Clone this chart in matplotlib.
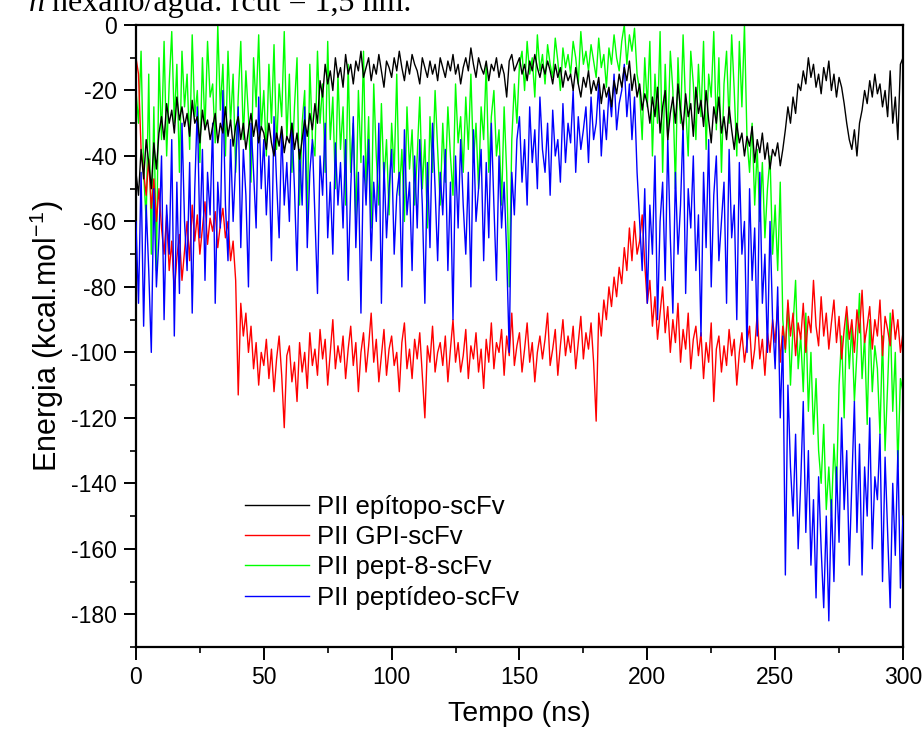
import numpy as np
import matplotlib
matplotlib.use("Agg")
import matplotlib.pyplot as plt
from matplotlib.ticker import MultipleLocator

plt.rcParams['font.family'] = ['Liberation Sans', 'DejaVu Sans']
plt.rcParams['axes.unicode_minus'] = False
plt.rcParams['mathtext.fontset'] = 'custom'
plt.rcParams['mathtext.rm'] = 'Liberation Sans'
plt.rcParams['mathtext.it'] = 'Liberation Sans:italic'

# tempo (ns), one sample per ns
tempo = np.arange(0, 301)

epitopo = [
    -45, -52, -38, -47, -35, -42, -50, -36, -44, -33,
    -28, -35, -24, -30, -26, -33, -22, -29, -25, -31,
    -27, -34, -23, -30, -28, -36, -26, -32, -29, -35,
    -31, -27, -36, -30, -33, -25, -34, -29, -37, -31,
    -28, -35, -30, -38, -32, -27, -34, -29, -36, -31,
    -33, -38, -30, -36, -40, -33, -37, -31, -39, -34,
    -36, -30, -38, -33, -41, -35, -29, -34, -27, -32,
    -24, -30, -17, -22, -12, -18, -14, -20, -10, -16,
    -13, -19, -9, -15, -12, -18, -11, -14, -8, -16,
    -13, -10, -17, -12, -15, -9, -14, -19, -11, -13,
    -16, -10, -14, -8, -13, -17, -11, -15, -9, -12,
    -14, -18, -10, -13, -16, -11, -15, -12, -17, -10,
    -13, -16, -11, -14, -9, -15, -12, -18, -13, -10,
    -14, -7, -12, -16, -10, -13, -15, -11, -17, -12,
    -14, -10, -16, -12, -15, -22, -11, -9, -14, -12,
    -10, -15, -12, -17, -11, -14, -9, -13, -16, -12,
    -15, -11, -14, -18, -12, -16, -13, -19, -14, -17,
    -15, -20, -13, -18, -22, -16, -19, -14, -21, -17,
    -20, -16, -24, -18, -22, -19, -25, -17, -21, -15,
    -19, -13, -17, -11, -20, -15, -22, -18, -26, -21,
    -24, -30, -22, -28, -19, -33, -25, -20, -35, -27,
    -22, -30, -18, -26, -32, -21, -28, -24, -34, -19,
    -27, -23, -31, -20, -29, -36, -25, -30, -22, -33,
    -28, -35, -25, -32, -38, -30, -36, -33, -40, -34,
    -37, -31, -42, -35, -39, -33, -41, -36, -44, -38,
    -40, -36, -43, -38, -32, -25, -30, -22, -27, -18,
    -20, -14, -18, -10, -16, -12, -19, -15, -21, -13,
    -17, -11, -20, -15, -22, -16, -19, -24, -30, -35,
    -38, -32, -40, -30, -26, -20, -24, -17, -22, -15,
    -21, -18, -25, -20, -28, -14, -30, -22, -35, -12,
    -10,
]

gpi = [
    -10, -15, -38, -45, -52, -41, -56, -47, -60, -50,
    -62, -70, -58, -75, -66, -82, -71, -64, -78, -69,
    -60, -72, -55, -66, -58, -70, -62, -54, -67, -59,
    -63, -57, -68, -61, -56, -65, -60, -72, -66, -78,
    -113, -85, -95, -88, -100, -92, -105, -97, -110, -100,
    -104, -96, -108, -99, -112, -102, -95, -107, -123, -101,
    -98, -109, -103, -115, -97, -106, -100, -111, -94, -104,
    -99, -107, -93, -102, -96, -110, -100, -90, -105, -98,
    -103, -95, -108, -99, -92, -104, -97, -112, -100, -94,
    -106, -98, -88, -103, -96, -109, -101, -93, -107, -99,
    -95, -104, -100, -112, -97, -91, -105, -99, -108, -96,
    -102, -94, -107, -120, -98, -103, -92, -106, -100, -97,
    -104, -95, -109, -99, -90, -103, -97, -106, -101, -93,
    -108, -98, -102, -94, -106, -99, -111, -96, -103, -91,
    -105, -97, -100, -93, -107, -95, -101, -88, -104, -98,
    -94, -106, -99, -91, -103, -97, -109, -100, -95, -102,
    -96, -88, -104, -99, -93, -107, -98, -90, -101, -95,
    -100, -92, -105, -97, -89, -102, -94, -99, -91, -103,
    -121, -88, -95, -84, -90, -80, -86, -77, -83, -74,
    -79, -68, -75, -62, -72, -60, -70, -66, -58, -73,
    -85, -78, -92, -83, -96, -88, -80, -94, -86, -100,
    -90, -97, -85, -103, -93, -99, -88, -105, -96, -92,
    -101, -94, -108, -97, -103, -91, -115, -99, -95, -106,
    -98, -104, -93, -101, -96, -110, -100, -94, -103, -97,
    -92, -105, -99, -88, -102, -96, -107, -94, -100, -90,
    -97, -86, -103, -92, -99, -84, -95, -88, -101, -91,
    -96, -85, -100, -89, -94, -78, -92, -98, -83, -95,
    -88, -99, -91, -84, -97, -89, -102, -93, -86, -96,
    -90, -100, -87, -94, -81, -97, -92, -86, -99, -90,
    -95, -84, -101, -89, -93, -98, -87, -96, -90, -100,
    -94,
]

pept8 = [
    -20, -30, -8, -45, -60, -15, -70, -25, -75, -10,
    -35, -5, -40, -18, -2, -30, -12, -45, -8, -25,
    -15, -38, -3, -28, -20, -42, -10, -32, -5, -22,
    -18, -36, 0, -26, -12, -40, -8, -30, -15, -45,
    -22, -5, -35, -14, -28, -48, -10, -25, -3, -32,
    -20, -40, -12, -30, -6, -38, -18, -28, -2, -35,
    -15, -45, -25, -10, -55, -30, -20, -60, -12, -35,
    -40, -8, -30, -18, -45, -5, -35, -22, -50, -15,
    -38, -25, -55, -12, -45, -30, -60, -20, -42, -8,
    -50, -28, -62, -18, -40, -55, -24, -48, -35, -58,
    -30, -45, -15, -52, -38, -60, -25, -44, -32, -55,
    -40, -22, -50, -35, -62, -28, -45, -20, -38, -55,
    -30, -48, -25, -40, -52, -18, -36, -28, -45, -22,
    -38, -15, -42, -30, -50, -25, -35, -12, -45, -28,
    -20, -40, -32, -55, -25, -45, -80, -35, -18, -30,
    -12, -8, -20, -5, -15, -10, -22, -3, -14, -9,
    -18, -6, -12, -16, -4, -11, -20, -7, -13, -9,
    -15, -5, -10, -18, -2, -12, -8, -14, -6, -11,
    -16, -4, -13, -9, -19, -7, -12, -3, -10, -14,
    -5, 0, -12, -3, -8, -1, -15, -20, -35, -10,
    -25, -5, -40, -15, -30, -2, -45, -12, -35, -8,
    -20, -50, -10, -30, -3, -25, -40, -8, -18, -35,
    -12, -28, -5, -38, -15, -22, -2, -32, -10, -45,
    -18, -8, -30, -3, -20, -40, -5, -25, 0, -35,
    -45, -30, -55, -38, -60, -42, -65, -50, -40, -70,
    -55, -75, -48, -90, -100, -85, -110, -92, -78, -105,
    -95, -112, -88, -118, -100, -125, -108, -130, -140, -122,
    -148, -135, -150, -128, -142, -110, -95, -120, -88, -105,
    -92, -115, -100, -82, -108, -95, -122, -90, -112, -98,
    -105, -125, -95, -130, -110, -88, -118, -100, -135, -108,
    -112,
]

peptideo = [
    -60, -85, -45, -92, -55, -75, -100, -50, -80, -65,
    -40, -90, -55, -70, -35, -95, -48, -82, -30, -60,
    -75, -42, -88, -50, -25, -65, -38, -78, -45, -58,
    -30, -85, -48, -62, -20, -55, -72, -35, -60, -42,
    -25, -68, -38, -52, -80, -30, -45, -62, -22, -50,
    -35, -58, -40, -72, -28, -48, -65, -32, -55, -42,
    -60, -30, -50, -75, -38, -55, -25, -68, -45, -35,
    -58, -82, -40, -52, -30, -65, -48, -70, -36, -55,
    -42, -62, -35, -78, -50, -28, -68, -45, -88, -40,
    -55, -35, -72, -48, -60, -30, -85, -42, -65, -50,
    -38, -70, -52, -45, -80, -32, -58, -48, -75, -40,
    -62, -35, -55, -85, -42, -68, -30, -50, -72, -45,
    -58, -38, -75, -48, -90, -40, -62, -35, -55, -70,
    -45, -80, -32, -60, -50, -38, -72, -42, -65, -30,
    -55, -78, -40, -62, -48, -70, -100, -45, -58, -35,
    -28, -48, -35, -55, -25, -42, -32, -50, -22, -38,
    -45, -30, -52, -26, -40, -35, -48, -24, -42, -30,
    -36, -20, -45, -28, -38, -32, -25, -42, -22, -35,
    -30, -18, -40, -26, -35, -20, -28, -15, -32, -24,
    -20, -12, -28, -18, -35, -22, -45, -60, -75, -50,
    -85, -55, -70, -40, -90, -60, -48, -78, -35, -65,
    -88, -45, -70, -55, -30, -82, -50, -62, -40, -75,
    -58, -95, -45, -68, -35, -80, -52, -40, -72, -60,
    -48, -85, -38, -65, -55, -90, -42, -70, -60, -100,
    -50, -78, -62, -95, -45, -85, -70, -100, -60, -90,
    -105, -80, -120, -95, -168, -110, -135, -150, -125, -160,
    -140, -115, -155, -130, -165, -145, -175, -138, -160, -178,
    -150, -182, -145, -170, -135, -158, -120, -148, -130, -165,
    -140, -115, -155, -128, -168, -135, -150, -120, -160, -138,
    -145, -125, -170, -132, -155, -178, -140, -162, -130, -172,
    -150,
]

series = [
    (epitopo, "PII epítopo-scFv", "black", 4),
    (gpi, "PII GPI-scFv", "red", 2),
    (pept8, "PII pept-8-scFv", "#00ff00", 1),
    (peptideo, "PII peptídeo-scFv", "blue", 3),
]

fig = plt.figure(figsize=(9.23, 7.36), dpi=100)
ax = fig.add_axes([0.1473, 0.1209, 0.8310, 0.8451])

for vals, lab, col, z in series:
    ax.plot(tempo, vals, color=col, lw=1.0, label=lab, zorder=z)

ax.set_xlim(0, 300)
ax.set_ylim(-190, 0)
ax.xaxis.set_major_locator(MultipleLocator(50))
ax.xaxis.set_minor_locator(MultipleLocator(25))
ax.yaxis.set_major_locator(MultipleLocator(20))
ax.yaxis.set_minor_locator(MultipleLocator(10))
ax.tick_params(which='major', direction='out', length=9, width=1.4,
               labelsize=16.5, pad=5)
ax.tick_params(which='minor', direction='out', length=4.5, width=1.2)
for s in ax.spines.values():
    s.set_linewidth(1.6)

ax.set_xlabel("Tempo (ns)", fontsize=20.5, labelpad=8)
ax.set_ylabel("Energia (kcal.mol$^{-1}$)", fontsize=22, labelpad=3)

ax.legend(loc='upper left', bbox_to_anchor=(0.142, 0.245), frameon=False,
          fontsize=18.5, handlelength=2.5, labelspacing=0.25,
          handletextpad=0.3, borderpad=0, borderaxespad=0)

# header text cut off at the top of the figure
fig.text(0.031, 0.985, "n", fontsize=23, style='italic', family='Liberation Serif',
         va='baseline')
fig.text(0.056, 0.985, "hexano/água: rcut = 1,5 nm.", fontsize=23,
         family='Liberation Serif', va='baseline')

fig.savefig("out.png", dpi=100)
